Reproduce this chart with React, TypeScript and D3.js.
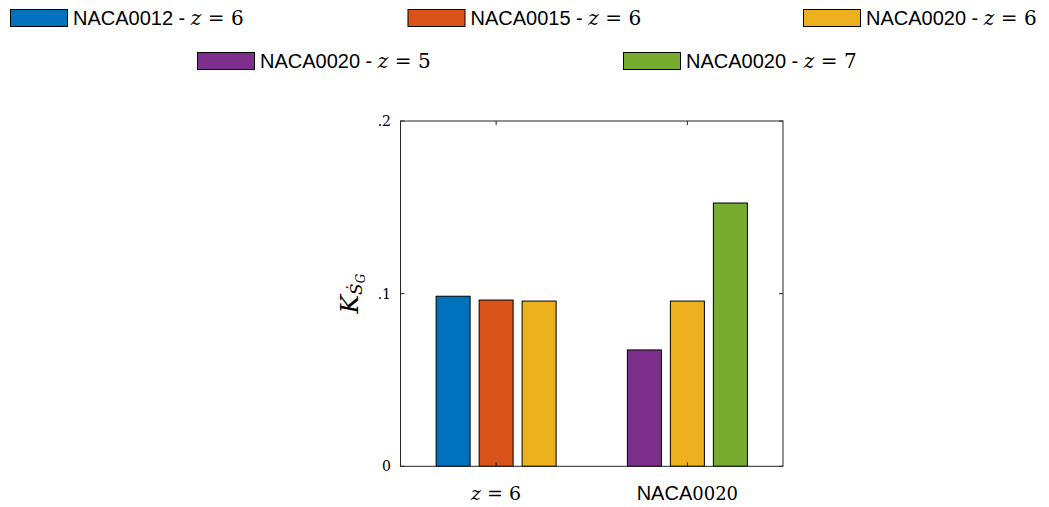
import React from "react";
import * as d3 from "d3";

// Categories along the x axis
const categories = ["z6", "NACA0020"];

// Series: profile and parameter z; values per category (null = not drawn there)
const seriesNames = ["NACA0012", "NACA0015", "NACA0020", "NACA0020", "NACA0020"];
const seriesZ = ["6", "6", "6", "5", "7"];
const seriesColors = ["#0072BD", "#D95319", "#EDB120", "#7E2F8E", "#77AC30"];
const valuesNACA0012z6 = [0.0985, null];
const valuesNACA0015z6 = [0.0963, null];
const valuesNACA0020z6 = [0.0957, 0.0957];
const valuesNACA0020z5 = [null, 0.0674];
const valuesNACA0020z7 = [null, 0.1525];
const seriesValues = [valuesNACA0012z6, valuesNACA0015z6, valuesNACA0020z6, valuesNACA0020z5, valuesNACA0020z7];

// Order of series within each category group
const groupSlots = [
  [0, 1, 2],
  [3, 2, 4],
];

const yTicks = [0, 0.1, 0.2];
const yTickLabels = ["0", ".1", ".2"];

const W = 1049;
const H = 507;
const plot = { left: 400.5, right: 783, top: 121, bottom: 466.3 };

const SANS = "'Liberation Sans', Arial, Helvetica, sans-serif";
const SERIF = "'DejaVu Serif', 'Liberation Serif', serif";

export default function App() {
  const x = d3.scaleLinear().domain([0.5, 2.5]).range([plot.left, plot.right]);
  const y = d3.scaleLinear().domain([0, 0.2]).range([plot.bottom, plot.top]);
  const unit = x(2) - x(1);
  const slotHalf = (129 / 191.25) * unit / 2;
  const slot = d3
    .scaleBand<number>()
    .domain([0, 1, 2])
    .range([-slotHalf, slotHalf])
    .paddingInner(0.2093)
    .paddingOuter(0.1047);

  const bars: { key: string; x: number; y: number; w: number; h: number; color: string }[] = [];
  categories.forEach((_, ci) => {
    groupSlots[ci].forEach((si, k) => {
      const v = seriesValues[si][ci];
      if (v == null) return;
      const cx = x(ci + 1) + (slot(k) as number);
      bars.push({
        key: `${ci}-${si}`,
        x: cx,
        y: y(v),
        w: slot.bandwidth(),
        h: y(0) - y(v),
        color: seriesColors[si],
      });
    });
  });

  // Legend layout: two rows
  const legendPos = [
    { sx: 10, row: 0 },
    { sx: 407.5, row: 0 },
    { sx: 803, row: 0 },
    { sx: 197, row: 1 },
    { sx: 623, row: 1 },
  ];
  const rowY = [9, 52];
  const swW = 57;
  const swH = 17;

  const tickLen = 4;

  return (
    <svg width={W} height={H} style={{ position: "absolute", left: 0, top: 0, background: "#fff" }}>
      <rect x={0} y={0} width={W} height={H} fill="#fff" />

      {/* Legend */}
      {legendPos.map((p, i) => {
        const yy = rowY[p.row];
        return (
          <g key={i}>
            <rect x={p.sx + 0.5} y={yy + 0.5} width={swW} height={swH} fill={seriesColors[i]} stroke="#000" strokeWidth={1} />
            <text x={p.sx + swW + 6} y={yy + swH - 1} fontSize={20} fontFamily={SANS} fill="#000">
              {seriesNames[i]} -{" "}
              <tspan fontFamily={SERIF} fontStyle="italic" fontSize={20}>z</tspan>
              <tspan fontFamily={SERIF} fontSize={20}>{" = "}{seriesZ[i]}</tspan>
            </text>
          </g>
        );
      })}

      {/* Bars */}
      {bars.map((b) => (
        <rect key={b.key} x={b.x} y={b.y} width={b.w} height={b.h} fill={b.color} stroke="#000" strokeWidth={1} />
      ))}

      {/* Axes box */}
      <rect
        x={plot.left}
        y={plot.top}
        width={plot.right - plot.left}
        height={plot.bottom - plot.top}
        fill="none"
        stroke="#262626"
        strokeWidth={1}
      />

      {/* Y ticks (both sides, pointing inward) */}
      {yTicks.map((t, i) => (
        <g key={`yt${i}`}>
          <line x1={plot.left} x2={plot.left + tickLen} y1={y(t)} y2={y(t)} stroke="#262626" />
          <line x1={plot.right} x2={plot.right - tickLen} y1={y(t)} y2={y(t)} stroke="#262626" />
          <text x={391} y={y(t) + 5} textAnchor="end" fontSize={14} fontFamily={SERIF} fill="#000">
            {yTickLabels[i]}
          </text>
        </g>
      ))}

      {/* X ticks at category centers */}
      {categories.map((_, ci) => (
        <g key={`xt${ci}`}>
          <line x1={x(ci + 1)} x2={x(ci + 1)} y1={plot.bottom} y2={plot.bottom - tickLen} stroke="#262626" />
          <line x1={x(ci + 1)} x2={x(ci + 1)} y1={plot.top} y2={plot.top + tickLen} stroke="#262626" />
        </g>
      ))}

      {/* X tick labels */}
      <text x={x(1)} y={500} textAnchor="middle" fontSize={19} fontFamily={SERIF} fill="#000">
        <tspan fontStyle="italic">z</tspan>
        <tspan>{" = 6"}</tspan>
      </text>
      <text x={x(2)} y={500} textAnchor="middle" fontSize={20} fontFamily={SANS} fill="#000">
        NACA
        <tspan fontFamily={SERIF} fontSize={18}>0020</tspan>
      </text>

      {/* Y axis label: K with subscript S-dot G */}
      <g transform={`translate(358, ${(plot.top + plot.bottom) / 2}) rotate(-90)`}>
        <text x={0} y={0} textAnchor="middle" fontFamily={SERIF} fill="#000">
          <tspan fontStyle="italic" fontSize={25}>K</tspan>
          <tspan fontStyle="italic" fontSize={17} dy={4}>Ṡ</tspan>
          <tspan fontStyle="italic" fontSize={12} dy={3}>G</tspan>
        </text>
      </g>
    </svg>
  );
}
